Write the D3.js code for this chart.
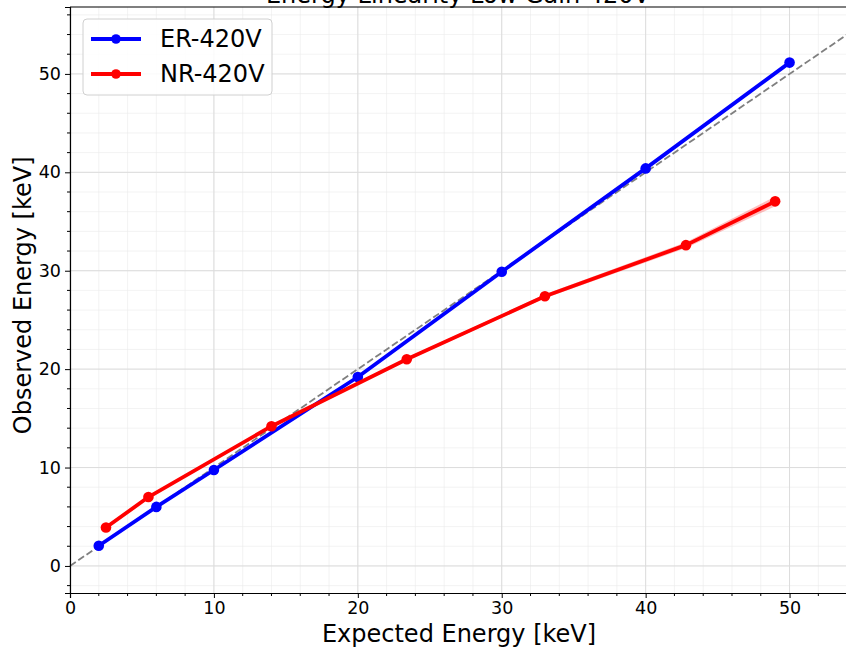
<!DOCTYPE html>
<html>
<head>
<meta charset="utf-8">
<script src="https://cdn.jsdelivr.net/npm/d3@7"></script>
<style>
  body { margin: 0; background: #fff; }
  text { font-family: "DejaVu Sans", sans-serif; }
</style>
</head>
<body>
<div id="chart"></div>
<script>
// Data
var erExpected = [2, 6, 10, 20, 30, 40, 50];
var erObserved = [2.05, 6.0, 9.75, 19.2, 29.9, 40.4, 51.15];
var nrExpected = [2.5, 5.45, 14.0, 23.4, 33.0, 42.8, 49.0];
var nrObserved = [3.9, 7.0, 14.2, 21.0, 27.4, 32.6, 37.05];
var nrErr      = [0.06, 0.1, 0.12, 0.15, 0.2, 0.3, 0.5];
var xTicks = [0, 10, 20, 30, 40, 50];
var yTicks = [0, 10, 20, 30, 40, 50];

var W = 846, H = 648;
var m = { left: 70, top: 7, right: 0, bottom: 55 };
var pw = 780, ph = H - m.top - m.bottom;

var svg = d3.select("#chart").append("svg")
    .attr("width", W).attr("height", H);

var x = d3.scaleLinear().domain([0, 54.2]).range([m.left, m.left + pw]);
var y = d3.scaleLinear().domain([-2.75, 56.8]).range([H - m.bottom, m.top]);

var g = svg.append("g");

// grid: minor then major
var minor = d3.range(-2, 57, 2);
g.selectAll(".gxm").data(minor.filter(function(v){ return v >= 0 && v <= 54; }))
  .enter().append("line")
  .attr("x1", function(d){ return x(d); }).attr("x2", function(d){ return x(d); })
  .attr("y1", y.range()[0]).attr("y2", y.range()[1])
  .attr("stroke", "#ebebeb").attr("stroke-width", 0.6);
g.selectAll(".gym").data(minor)
  .enter().append("line")
  .attr("y1", function(d){ return y(d); }).attr("y2", function(d){ return y(d); })
  .attr("x1", x.range()[0]).attr("x2", x.range()[1])
  .attr("stroke", "#ebebeb").attr("stroke-width", 0.6);
g.selectAll(".gx").data(xTicks).enter().append("line")
  .attr("x1", function(d){ return x(d); }).attr("x2", function(d){ return x(d); })
  .attr("y1", y.range()[0]).attr("y2", y.range()[1])
  .attr("stroke", "#dcdcdc").attr("stroke-width", 1);
g.selectAll(".gy").data(yTicks).enter().append("line")
  .attr("y1", function(d){ return y(d); }).attr("y2", function(d){ return y(d); })
  .attr("x1", x.range()[0]).attr("x2", x.range()[1])
  .attr("stroke", "#dcdcdc").attr("stroke-width", 1);

// ideal y = x
svg.append("line")
  .attr("x1", x(0)).attr("y1", y(0)).attr("x2", x(54.2)).attr("y2", y(54.2))
  .attr("stroke", "#7f7f7f").attr("stroke-width", 1.8).attr("stroke-dasharray", "7,3");

// NR error band
var nrPts = nrExpected.map(function(v, i){ return { x: v, y: nrObserved[i], e: nrErr[i] }; });
svg.append("path").datum(nrPts)
  .attr("d", d3.area().x(function(d){ return x(d.x); })
      .y0(function(d){ return y(d.y - d.e); }).y1(function(d){ return y(d.y + d.e); }))
  .attr("fill", "red").attr("fill-opacity", 0.25);

function series(xs, ys, color) {
  var pts = xs.map(function(v, i){ return [v, ys[i]]; });
  svg.append("path").datum(pts)
    .attr("d", d3.line().x(function(d){ return x(d[0]); }).y(function(d){ return y(d[1]); }))
    .attr("fill", "none").attr("stroke", color).attr("stroke-width", 3.8)
    .attr("stroke-linejoin", "round");
  svg.selectAll(null).data(pts).enter().append("circle")
    .attr("cx", function(d){ return x(d[0]); }).attr("cy", function(d){ return y(d[1]); })
    .attr("r", 5.3).attr("fill", color);
}
series(erExpected, erObserved, "#0000ff");
series(nrExpected, nrObserved, "#ff0000");

// axes
var xAxis = d3.axisBottom(x).tickValues(xTicks).tickSize(5).tickPadding(4);
var yAxis = d3.axisLeft(y).tickValues(yTicks).tickSize(5).tickPadding(4);
var gx = svg.append("g").attr("transform", "translate(0," + y.range()[0] + ")").call(xAxis);
var gy = svg.append("g").attr("transform", "translate(" + m.left + ",0)").call(yAxis);
gx.append("g").selectAll("line").data(d3.range(2, 54, 2).filter(function(v){ return v % 10; }))
  .enter().append("line").attr("x1", function(d){ return x(d); }).attr("x2", function(d){ return x(d); })
  .attr("y1", 0).attr("y2", 3).attr("stroke", "#000");
gy.append("g").selectAll("line").data(minor.filter(function(v){ return v % 10; }))
  .enter().append("line").attr("y1", function(d){ return y(d); }).attr("y2", function(d){ return y(d); })
  .attr("x1", 0).attr("x2", -3).attr("stroke", "#000");
[gx, gy].forEach(function(a){
  a.selectAll("text").attr("font-size", 17.5).attr("fill", "#000")
    .style("font-family", "'DejaVu Sans', sans-serif");
  a.select(".domain").attr("stroke", "#000").attr("stroke-width", 1.2);
});
// top spine
svg.append("line").attr("x1", m.left).attr("x2", m.left + pw)
  .attr("y1", m.top).attr("y2", m.top).attr("stroke", "#000").attr("stroke-width", 1.2);

// labels
svg.append("text").attr("x", 458).attr("y", 3).attr("text-anchor", "middle")
  .attr("font-size", 24).text("Energy Linearity Low Gain 420V");
svg.append("text").attr("x", 459).attr("y", 642).attr("text-anchor", "middle")
  .attr("font-size", 24).text("Expected Energy [keV]");
svg.append("text").attr("transform", "translate(31," + y(27.5) + ") rotate(-90)")
  .attr("text-anchor", "middle").attr("font-size", 24).text("Observed Energy [keV]");

// legend
var lg = svg.append("g");
lg.append("rect").attr("x", 83).attr("y", 19).attr("width", 189).attr("height", 76).attr("rx", 4)
  .attr("fill", "#fff").attr("fill-opacity", 0.85).attr("stroke", "#d0d0d0");
[["ER-420V", "#0000ff"], ["NR-420V", "#ff0000"]].forEach(function(s, i){
  var yy = 39 + i * 35;
  lg.append("line").attr("x1", 91).attr("x2", 141).attr("y1", yy).attr("y2", yy)
    .attr("stroke", s[1]).attr("stroke-width", 3.8);
  lg.append("circle").attr("cx", 116).attr("cy", yy).attr("r", 4.8).attr("fill", s[1]);
  lg.append("text").attr("x", 160).attr("y", yy + 8).attr("font-size", 24).text(s[0]);
});
</script>
</body>
</html>
